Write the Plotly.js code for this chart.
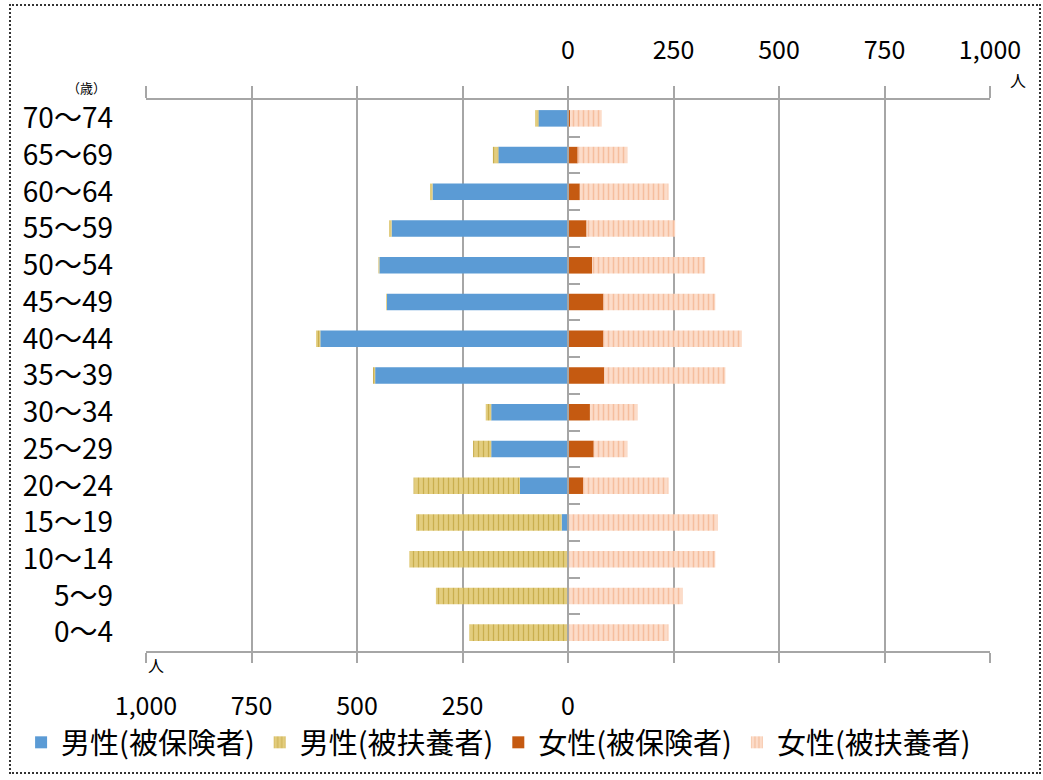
<!DOCTYPE html>
<html>
<head>
<meta charset="utf-8">
<script src="https://cdn.plot.ly/plotly-3.0.1.min.js"></script>
<style>
html,body{margin:0;padding:0;background:#fff;}
#wrap{position:relative;width:1043px;height:780px;}
#chart{width:1043px;height:780px;}
#frame{position:absolute;left:9px;top:4px;width:1028px;height:766px;border:2px dotted #333;pointer-events:none;}
</style>
</head>
<body>
<div id="wrap"><div id="chart"></div><div id="frame"></div></div>
<script>
// Age groups (bottom to top)
const ages = ["0～4","5～9","10～14","15～19","20～24","25～29","30～34","35～39","40～44","45～49","50～54","55～59","60～64","65～69","70～74"];
// People counts
const maleInsured     = [0, 0, 0, 15, 114, 182, 182, 457, 587, 429, 447, 418, 321, 165, 70];
const maleDependent   = [234, 313, 376, 345, 252, 43, 13, 5, 10, 2, 2, 6, 6, 13, 8];
const femaleInsured   = [0, 0, 0, 2, 36, 61, 52, 86, 84, 84, 57, 44, 28, 23, 5];
const femaleDependent = [238, 272, 349, 353, 202, 80, 113, 287, 328, 265, 268, 210, 210, 118, 75];
const seriesNames = ["男性(被保険者)", "男性(被扶養者)", "女性(被保険者)", "女性(被扶養者)"];
const tickValues = [-1000, -750, -500, -250, 0, 250, 500, 750, 1000];
const bottomTickText = ["1,000", "750", "500", "250", "0", "", "", "", ""];
const topTickText = ["", "", "", "", "0", "250", "500", "750", "1,000"];

const FONT = '"Noto Sans CJK JP", "Noto Sans", sans-serif';
const GRID = '#A6A6A6';

const traces = [
  {type:'bar', orientation:'h', name:seriesNames[0], y:ages, x:maleInsured.map(v=>-v),
   marker:{color:'#5B9BD5'}, hoverinfo:'name+y'},
  {type:'bar', orientation:'h', name:seriesNames[1], y:ages, x:maleDependent.map(v=>-v),
   marker:{color:'#E3CD7E', pattern:{shape:'|', fgcolor:'#C9AE4E', bgcolor:'#E3CD7E', size:5, solidity:0.25}}, hoverinfo:'name+y'},
  {type:'bar', orientation:'h', name:seriesNames[2], y:ages, x:femaleInsured,
   marker:{color:'#C55A11'}, hoverinfo:'name+y'},
  {type:'bar', orientation:'h', name:seriesNames[3], y:ages, x:femaleDependent,
   marker:{color:'#FBD5BF', pattern:{shape:'|', fgcolor:'#F5BE9E', bgcolor:'#FCDCC9', size:5, solidity:0.3}}, hoverinfo:'name+y'},
  {type:'scatter', mode:'markers', x:[null], y:[null], xaxis:'x2', yaxis:'y2', showlegend:false, hoverinfo:'skip'}
];

const layout = {
  width:1043, height:780,
  paper_bgcolor:'#fff', plot_bgcolor:'#fff',
  margin:{l:146, r:53, t:100, b:127},
  barmode:'relative', bargap:0.55,
  font:{family:FONT, color:'#000'},
  showlegend:true,
  legend:{orientation:'h', xref:'paper', yref:'paper', x:-0.148, y:-0.166, yanchor:'middle', xanchor:'left',
          bgcolor:'rgba(0,0,0,0)',
          font:{size:29, family:FONT, color:'#000'}, traceorder:'normal', itemwidth:30, tracegroupgap:0},
  xaxis:{range:[-1000,1000], tickmode:'array', tickvals:tickValues, ticktext:bottomTickText,
         showgrid:true, gridcolor:GRID, gridwidth:2, zeroline:false,
         showline:true, linecolor:GRID, linewidth:2,
         ticks:'outside', ticklen:10, tickwidth:2, tickcolor:GRID,
         ticklabelstandoff:22, tickfont:{size:25, family:FONT, color:'#000'}, fixedrange:true},
  xaxis2:{overlaying:'x', side:'top', anchor:'y2', range:[-1000,1000], tickmode:'array', tickvals:tickValues, ticktext:topTickText,
          showgrid:false, zeroline:false, showline:true, linecolor:GRID, linewidth:2,
          ticks:'outside', ticklen:12, tickwidth:2, tickcolor:GRID,
          ticklabelstandoff:17, tickfont:{size:25, family:FONT, color:'#000'}, fixedrange:true},
  yaxis:{type:'category', categoryorder:'array', categoryarray:ages, range:[-0.5, ages.length-0.5],
         showgrid:false, zeroline:false, showline:false, ticks:'',
         ticklabelstandoff:32, tickfont:{size:28, family:FONT, color:'#000'}, fixedrange:true},
  yaxis2:{overlaying:'y', anchor:'free', position:0.5, side:'left', range:[-0.5, ages.length-0.5],
          tickmode:'array', tickvals:ages.slice(1).map((_,i)=>i+0.5), showticklabels:false,
          showgrid:false, zeroline:false, showline:true, linecolor:GRID, linewidth:2,
          ticks:'inside', ticklen:11, tickwidth:2, tickcolor:GRID, fixedrange:true},
  annotations:[
    {xref:'paper', yref:'paper', x:1.0, y:1.0, xanchor:'left', yanchor:'bottom', xshift:18, yshift:6,
     text:'人', showarrow:false, font:{size:16, family:FONT, color:'#000'}},
    {xref:'paper', yref:'paper', x:0.0, y:0.0, xanchor:'left', yanchor:'top', xshift:0, yshift:0,
     text:'人', showarrow:false, font:{size:16, family:FONT, color:'#000'}},
    {xref:'paper', yref:'paper', x:0.0, y:1.0, xanchor:'right', yanchor:'bottom', xshift:-38, yshift:1,
     text:'（歳）', showarrow:false, font:{size:13, family:FONT, color:'#000'}}
  ]
};

Plotly.newPlot('chart', traces, layout, {displayModeBar:false, staticPlot:true});
</script>
</body>
</html>
